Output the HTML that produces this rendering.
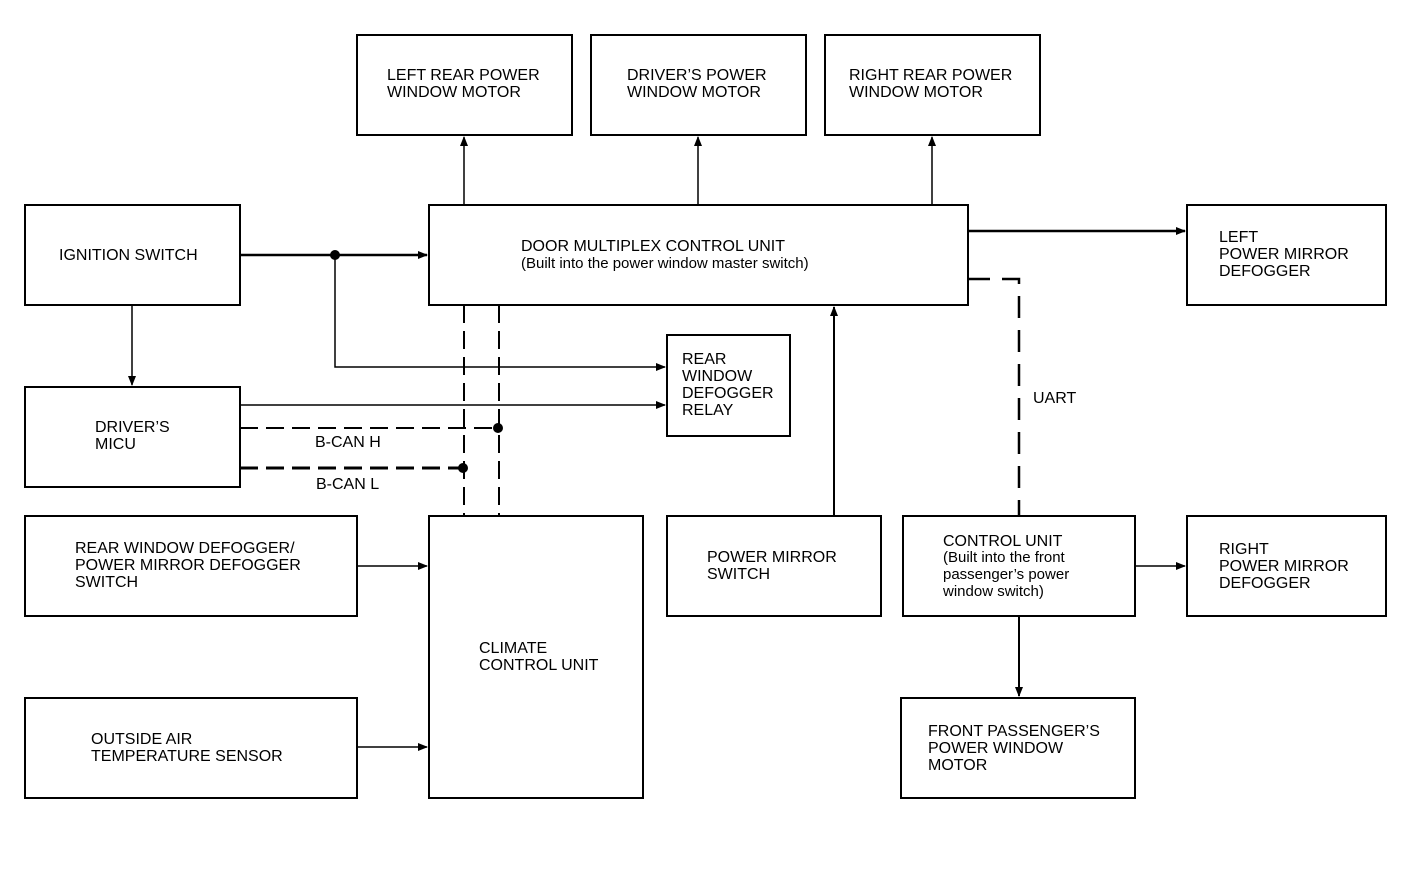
<!DOCTYPE html>
<html><head><style>
html,body{margin:0;padding:0;background:#fff;}
svg{display:block;}
text{font-family:"Liberation Sans",sans-serif;font-size:16px;fill:#000;}
</style></head><body>
<svg width="1408" height="896" viewBox="0 0 1408 896" xmlns="http://www.w3.org/2000/svg">
<defs>
<marker id="a" markerWidth="10" markerHeight="8" refX="9" refY="4" orient="auto" markerUnits="userSpaceOnUse">
<path d="M0,0 L10,4 L0,8 z" fill="#000"/></marker>
</defs>
<g fill="none" stroke="#000" stroke-width="2">
<rect x="357" y="35" width="215" height="100"/>
<rect x="591" y="35" width="215" height="100"/>
<rect x="825" y="35" width="215" height="100"/>
<rect x="25" y="205" width="215" height="100"/>
<rect x="429" y="205" width="539" height="100"/>
<rect x="1187" y="205" width="199" height="100"/>
<rect x="667" y="335" width="123" height="101"/>
<rect x="25" y="387" width="215" height="100"/>
<rect x="25" y="516" width="332" height="100"/>
<rect x="429" y="516" width="214" height="282"/>
<rect x="667" y="516" width="214" height="100"/>
<rect x="903" y="516" width="232" height="100"/>
<rect x="1187" y="516" width="199" height="100"/>
<rect x="25" y="698" width="332" height="100"/>
<rect x="901" y="698" width="234" height="100"/>
</g>
<g fill="none" stroke="#000" stroke-width="1.5">
<line x1="464" y1="205" x2="464" y2="137" marker-end="url(#a)"/>
<line x1="698" y1="205" x2="698" y2="137" marker-end="url(#a)"/>
<line x1="932" y1="205" x2="932" y2="137" marker-end="url(#a)"/>
<line x1="240" y1="255" x2="427" y2="255" stroke-width="2.5" marker-end="url(#a)"/>
<polyline points="335,255 335,367 665,367" marker-end="url(#a)"/>
<line x1="132" y1="305" x2="132" y2="385" marker-end="url(#a)"/>
<line x1="240" y1="405" x2="665" y2="405" marker-end="url(#a)"/>
<line x1="968" y1="231" x2="1185" y2="231" stroke-width="2.5" marker-end="url(#a)"/>
<line x1="834" y1="516" x2="834" y2="307" stroke-width="2" marker-end="url(#a)"/>
<line x1="357" y1="566" x2="427" y2="566" marker-end="url(#a)"/>
<line x1="357" y1="747" x2="427" y2="747" marker-end="url(#a)"/>
<line x1="1135" y1="566" x2="1185" y2="566" marker-end="url(#a)"/>
<line x1="1019" y1="616" x2="1019" y2="696" stroke-width="2" marker-end="url(#a)"/>
<line x1="240" y1="428" x2="498" y2="428" stroke-dasharray="18,8" stroke-width="2"/>
<line x1="240" y1="468" x2="463" y2="468" stroke-dasharray="18,8" stroke-width="3"/>
<line x1="464" y1="305" x2="464" y2="516" stroke-dasharray="18,8" stroke-width="2"/>
<line x1="499" y1="305" x2="499" y2="516" stroke-dasharray="18,8" stroke-width="2"/>
<polyline points="968,279 1019,279 1019,516" stroke-dasharray="22,12" stroke-width="2.5"/>
</g>
<circle cx="335" cy="255" r="5"/>
<circle cx="498" cy="428" r="5"/>
<circle cx="463" cy="468" r="5"/>
<text x="387" y="80">LEFT REAR POWER</text><text x="387" y="97">WINDOW MOTOR</text>
<text x="627" y="80">DRIVER’S POWER</text><text x="627" y="97">WINDOW MOTOR</text>
<text x="849" y="80">RIGHT REAR POWER</text><text x="849" y="97">WINDOW MOTOR</text>
<text x="59" y="260">IGNITION SWITCH</text>
<text x="521" y="251">DOOR MULTIPLEX CONTROL UNIT</text>
<text x="521" y="268" style="font-size:15px">(Built into the power window master switch)</text>
<text x="1219" y="242">LEFT</text><text x="1219" y="259">POWER MIRROR</text><text x="1219" y="276">DEFOGGER</text>
<text x="682" y="364">REAR</text><text x="682" y="381">WINDOW</text><text x="682" y="398">DEFOGGER</text><text x="682" y="415">RELAY</text>
<text x="95" y="432">DRIVER’S</text><text x="95" y="449">MICU</text>
<text x="315" y="447">B-CAN H</text>
<text x="316" y="489">B-CAN L</text>
<text x="1033" y="403">UART</text>
<text x="75" y="553">REAR WINDOW DEFOGGER/</text><text x="75" y="570">POWER MIRROR DEFOGGER</text><text x="75" y="587">SWITCH</text>
<text x="479" y="653">CLIMATE</text><text x="479" y="670">CONTROL UNIT</text>
<text x="707" y="562">POWER MIRROR</text><text x="707" y="579">SWITCH</text>
<text x="943" y="546">CONTROL UNIT</text>
<text x="943" y="562" style="font-size:15px">(Built into the front</text>
<text x="943" y="579" style="font-size:15px">passenger’s power</text>
<text x="943" y="596" style="font-size:15px">window switch)</text>
<text x="1219" y="554">RIGHT</text><text x="1219" y="571">POWER MIRROR</text><text x="1219" y="588">DEFOGGER</text>
<text x="91" y="744">OUTSIDE AIR</text><text x="91" y="761">TEMPERATURE SENSOR</text>
<text x="928" y="736">FRONT PASSENGER’S</text><text x="928" y="753">POWER WINDOW</text><text x="928" y="770">MOTOR</text>
</svg>
</body></html>
